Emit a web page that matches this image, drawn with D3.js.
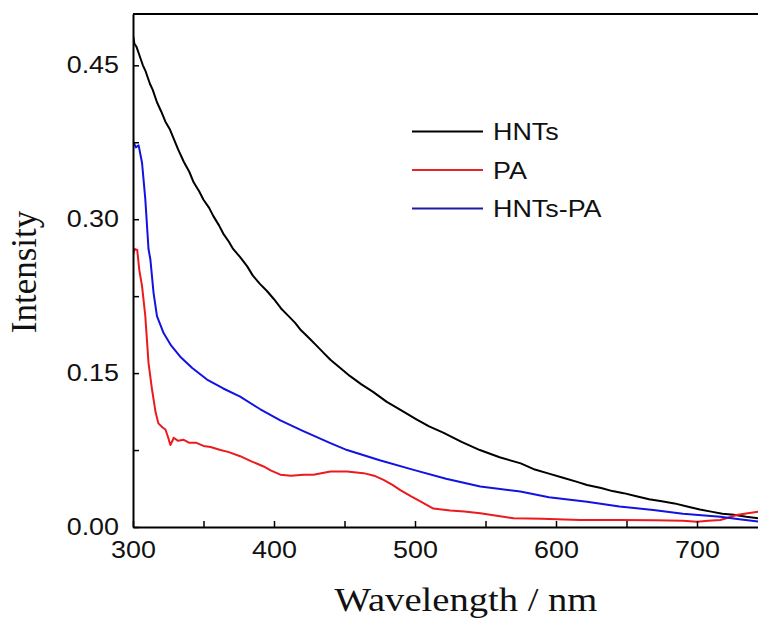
<!DOCTYPE html>
<html>
<head>
<meta charset="utf-8">
<script src="https://cdn.jsdelivr.net/npm/d3@7"></script>
<style>
  body { margin: 0; background: #fff; }
  svg { display: block; }
  .tick text { font-family: "Liberation Sans", Arial, sans-serif; font-size: 24px; fill: #111; }
  .title { font-family: "Liberation Serif", "Times New Roman", serif; font-size: 33px; fill: #111; }
  .legend text { font-family: "Liberation Sans", Arial, sans-serif; font-size: 24px; fill: #111; }
</style>
</head>
<body>
<svg width="758" height="618"></svg>
<script>
// series: [wavelength nm, intensity]
const hnts = [
  [300, 0.479], [301, 0.471], [302.5, 0.468], [304, 0.462], [307, 0.450], [309, 0.444],
  [312, 0.432], [314, 0.426], [317, 0.414], [320, 0.405], [323, 0.395], [326, 0.388],
  [329, 0.378], [332, 0.368], [336, 0.356], [340, 0.346], [343, 0.336], [347, 0.327],
  [350, 0.319], [354, 0.311], [357, 0.303], [361, 0.294], [364, 0.286], [368, 0.278],
  [371, 0.271], [376, 0.263], [381, 0.254], [385, 0.245], [390, 0.237], [395, 0.230],
  [400, 0.222], [405, 0.213], [410, 0.206], [415, 0.199], [419, 0.192], [425, 0.184],
  [430, 0.177], [435, 0.170], [440, 0.163], [447, 0.155], [454, 0.147], [462, 0.139],
  [470, 0.132], [480, 0.122], [490, 0.114], [501, 0.105], [510, 0.098], [520, 0.092],
  [533, 0.083], [546, 0.075], [560, 0.068], [575, 0.062], [585, 0.056], [595, 0.052],
  [605, 0.048], [615, 0.044], [622, 0.041], [632, 0.038], [640, 0.035], [648, 0.033],
  [657, 0.030], [666, 0.027], [675, 0.025], [684, 0.023], [693, 0.020], [702, 0.017],
  [710, 0.015], [718, 0.013], [726, 0.012], [735, 0.010], [744, 0.0085]
];
const pa = [
  [300, 0.265], [301, 0.271], [303, 0.270], [304.5, 0.250], [306.4, 0.235], [308.7, 0.206],
  [310, 0.180], [311, 0.160], [313.5, 0.134], [316, 0.112], [318, 0.101], [321, 0.097],
  [323, 0.095], [325, 0.087], [326.5, 0.080], [328, 0.084], [328.8, 0.087], [332, 0.084],
  [336, 0.085], [340, 0.082], [345, 0.082], [350, 0.079], [355, 0.078], [362, 0.075],
  [368, 0.073], [376, 0.069], [384, 0.064], [392.6, 0.059], [398, 0.055], [404.5, 0.051],
  [412, 0.050], [421, 0.051], [428, 0.051], [440, 0.054], [451.8, 0.054], [463.5, 0.0525],
  [471, 0.050], [477.7, 0.046], [484, 0.041], [489.6, 0.036], [497, 0.030], [503.8, 0.025],
  [513, 0.018], [525, 0.016], [535, 0.015], [546.3, 0.0134], [558, 0.011], [570, 0.0085],
  [590, 0.0080], [617, 0.0068], [645, 0.0068], [670, 0.0065], [690, 0.0060], [700, 0.0052],
  [708, 0.0060], [716.5, 0.0068], [722, 0.0090], [728, 0.0117], [736, 0.0135], [744, 0.015]
];
const hntsPa = [
  [300.4, 0.375], [302, 0.370], [304, 0.372], [306.4, 0.355], [308.7, 0.320], [311, 0.271],
  [312.3, 0.261], [314.6, 0.228], [317, 0.2055], [321.7, 0.189], [327, 0.177], [333.5, 0.166],
  [342, 0.155], [352.5, 0.1437], [364, 0.135], [376, 0.127], [390, 0.115], [404.5, 0.104],
  [420, 0.094], [440, 0.0818], [451.8, 0.075], [475, 0.065], [499, 0.0557], [522, 0.047],
  [546.3, 0.0394], [574.7, 0.0345], [595, 0.029], [622, 0.0247], [645, 0.020], [669, 0.0166],
  [690, 0.013], [716.5, 0.010], [730, 0.0075], [744, 0.0052]
];

const seriesNames = ["HNTs", "PA", "HNTs-PA"];
const seriesData = [hnts, pa, hntsPa];
const seriesColors = ["#000000", "#ec1a1f", "#1212e2"];
const legendColors = ["#000000", "#e4262b", "#1c1ca4"];

const xMajor = [300, 400, 500, 600, 700];
const xTicks = [300, 350, 400, 450, 500, 550, 600, 650, 700, 750];
const yMajor = [0, 0.15, 0.3, 0.45];
const yTicks = [0, 0.075, 0.15, 0.225, 0.3, 0.375, 0.45];

const svg = d3.select("svg");
const plotLeft = 133, plotTop = 14, plotBottom = 527;
const x = d3.scaleLinear().domain([300, 800]).range([plotLeft, plotLeft + 705]);
const y = d3.scaleLinear().domain([0, 0.5]).range([plotBottom, plotTop]);

svg.append("defs").append("clipPath").attr("id", "plot")
  .append("rect").attr("x", plotLeft).attr("y", plotTop)
  .attr("width", 705).attr("height", plotBottom - plotTop);

// curves
const line = d3.line().x(d => x(d[0])).y(d => y(d[1]));
svg.append("g").attr("clip-path", "url(#plot)")
  .selectAll("path")
  .data(seriesData)
  .join("path")
  .attr("d", line)
  .attr("fill", "none")
  .attr("stroke", (d, i) => seriesColors[i])
  .attr("stroke-width", 2)
  .attr("stroke-linejoin", "round");

// axes
const xAxis = d3.axisBottom(x)
  .tickValues(xTicks)
  .tickSizeInner(-6)
  .tickSizeOuter(0)
  .tickPadding(14)
  .tickFormat(d => xMajor.includes(d) ? d : "");
const xg = svg.append("g").attr("transform", `translate(0,${plotBottom})`).call(xAxis);

const yAxis = d3.axisLeft(y)
  .tickValues(yTicks)
  .tickSizeInner(-6)
  .tickSizeOuter(0)
  .tickPadding(14)
  .tickFormat(d => yMajor.some(m => Math.abs(m - d) < 1e-9) ? d3.format(".2f")(d) : "");
const yg = svg.append("g").attr("transform", `translate(${plotLeft},0)`).call(yAxis);

[xg, yg].forEach(g => {
  g.select(".domain").attr("stroke", "#000").attr("stroke-width", 2);
  g.selectAll(".tick line").attr("stroke", "#000").attr("stroke-width", 1.5);
});
yg.selectAll(".tick text").attr("x", -14);

// top frame line
svg.append("line")
  .attr("x1", plotLeft).attr("x2", 758)
  .attr("y1", plotTop).attr("y2", plotTop)
  .attr("stroke", "#000").attr("stroke-width", 2);

// axis titles
const xTitle = svg.append("text").attr("class", "title")
  .attr("x", 466).attr("y", 611)
  .attr("text-anchor", "middle")
  .text("Wavelength / nm");
svg.append("text").attr("class", "title")
  .attr("transform", "translate(36,272) rotate(-90)")
  .attr("text-anchor", "middle")
  .style("font-size", "35px")
  .text("Intensity");

// legend
const legend = svg.append("g").attr("class", "legend");
const rows = legend.selectAll("g")
  .data(seriesNames)
  .join("g")
  .attr("transform", (d, i) => `translate(412,${131.5 + i * 38.5})`);
rows.append("line")
  .attr("x1", 0).attr("x2", 71)
  .attr("stroke", (d, i) => legendColors[i])
  .attr("stroke-width", 2);
rows.append("text")
  .attr("x", 81).attr("dy", "0.36em")
  .text(d => d);

// the original picture is a little wider than tall; stretch horizontal text to match
function widen(sel, k) {
  sel.each(function () {
    const w = this.getComputedTextLength();
    if (w > 0) d3.select(this).attr("textLength", w * k).attr("lengthAdjust", "spacingAndGlyphs");
  });
}
widen(svg.selectAll(".tick text"), 1.12);
widen(legend.selectAll("text"), 1.12);
widen(xTitle, 1.17);
</script>
</body>
</html>
